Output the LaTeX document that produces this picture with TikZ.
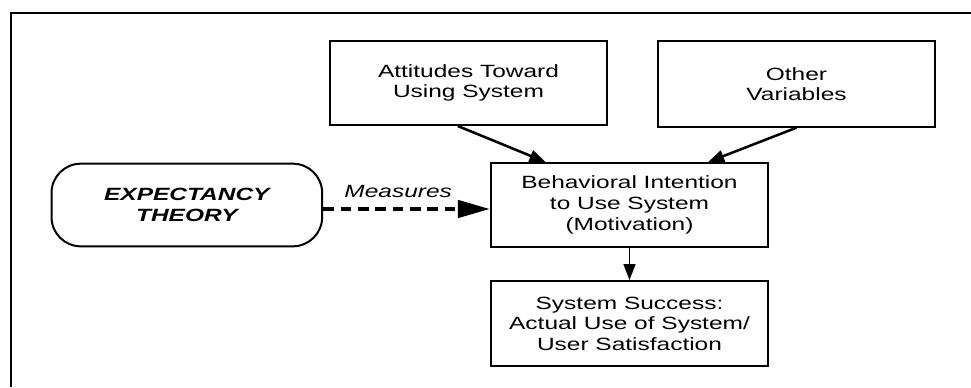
\documentclass[tikz,border=0pt]{standalone}
\usepackage{fontspec}
\setmainfont[FakeStretch=1.38]{Liberation Sans}
\usetikzlibrary{arrows.meta, positioning}
\tikzset{
    box/.style={draw, line width=1.5pt, fill=white, align=center, font=\fontsize{13.3}{15.5}\selectfont, minimum width=208pt, minimum height=63pt, inner sep=2pt},
    roundbox/.style={box, rounded corners=22pt, minimum width=203pt, minimum height=62pt, font=\fontsize{13.3}{15.5}\selectfont\bfseries\itshape},
    arrow/.style={-{Triangle[length=12pt, width=9pt]}, line width=1.9pt},
    dasharrow/.style={-{Triangle[length=24pt, width=13pt]}, dash pattern=on 8pt off 5pt, line width=2.8pt}
}

\begin{document}
\begin{tikzpicture}[x=0.75pt, y=-0.75pt]
        \useasboundingbox (0,0) rectangle (971,387);
        % open frame round the model
        \draw [line width=1.5pt] (11,387) -- (11,13) -- (971,13);

        \node [box] (behav) at (629.5,205) {Behavioral Intention \\ to Use System \\ (Motivation)};
        \node [box] (attitude) at (468.5,83) {Attitudes Toward \\ Using System};
        \node [box, minimum height=64pt] (other) at (796.5,84) {Other \\ Variables};
        \node [box, below=24pt of behav, minimum height=64pt] (success) {System Success: \\ Actual Use of System/ \\ User Satisfaction};
        \node [roundbox, left=125pt of behav] (theory) {EXPECTANCY \\ THEORY};

        \draw [arrow] ([xshift=-8pt]attitude.south) -- ([xshift=-63pt]behav.north);
        \draw [arrow] (other.south) -- ([xshift=59pt]behav.north);
        \draw [arrow, line width=1.2pt] (behav.south) -- (behav.south |- success.north);
        \draw [dasharrow] ([yshift=-3pt]theory.east) -- node [above=4pt, pos=0.45, font=\fontsize{13.3}{15.5}\selectfont\itshape] (measure) {Measures} ([yshift=-3pt]behav.west);
    \end{tikzpicture}
\end{document}
